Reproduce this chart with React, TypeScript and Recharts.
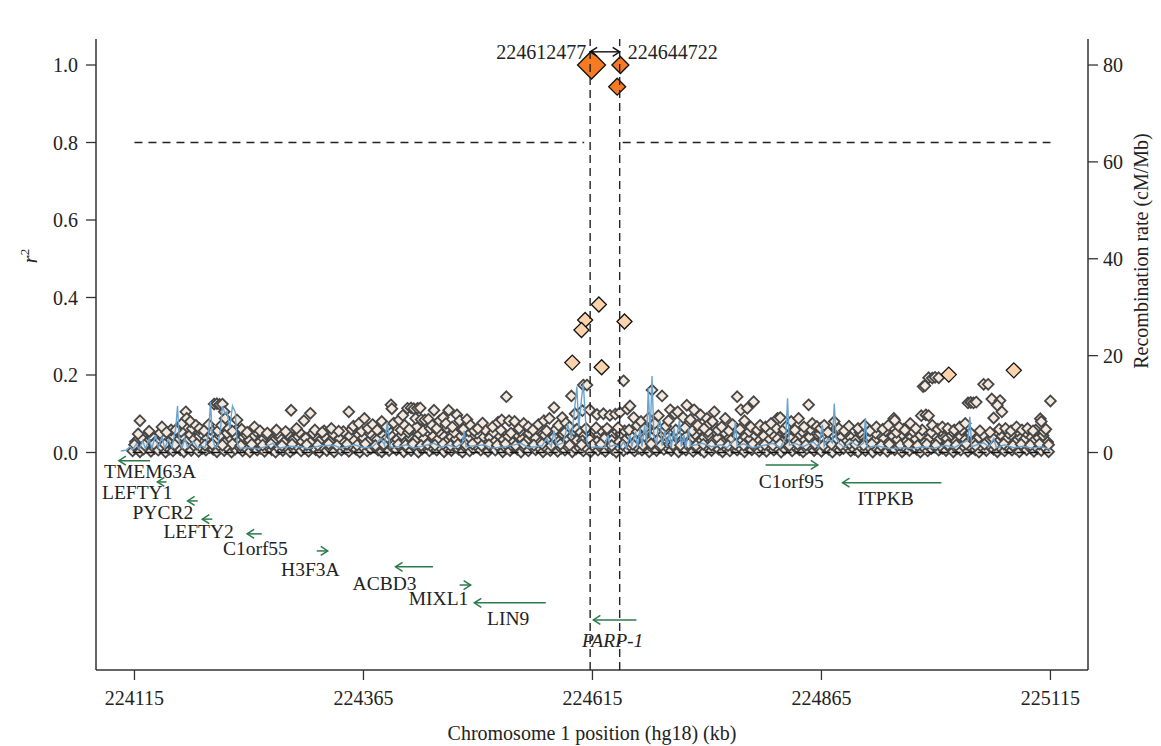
import React from "react";
import { ComposedChart, Scatter, Line, XAxis, YAxis, ReferenceLine } from "recharts";

const FONT = "'Liberation Serif', 'DejaVu Serif', serif";
const GENE_GREEN = "#2b7a4b";
const INK = "#222";

// axis ranges (kb, r^2, cM/Mb)
const X_DOMAIN: [number, number] = [224073, 225156];
const R2_DOMAIN: [number, number] = [-0.5613, 1.0671];
const RATE_DOMAIN: [number, number] = [-44.9, 85.37];

const xTicks = [224115, 224365, 224615, 224865, 225115];
const r2Ticks = [0, 0.2, 0.4, 0.6, 0.8, 1.0];
const rateTicks = [0, 20, 40, 60, 80];

// SNPs with r^2 < 0.2 (position kb, r^2)
const snps224100: [number, number][] = [
  [224113, 0.004], [224117, 0.012], [224121, 0.002], [224125, 0.009], [224129, 0.016], [224133, 0.003], [224137, 0.011], [224141, 0.006], [224145, 0.014], [224149, 0.001], [224153, 0.009], [224157, 0.004], [224161, 0.013], [224165, 0.007], [224169, 0.002], [224173, 0.012], [224177, 0.005], [224181, 0.015], [224185, 0.003], [224189, 0.01], [224193, 0.006], [224197, 0.013],
  [224116, 0.028], [224123, 0.036], [224128, 0.024], [224134, 0.041], [224139, 0.03], [224146, 0.038], [224152, 0.026], [224157, 0.044], [224163, 0.032], [224168, 0.04], [224172, 0.027], [224176, 0.046], [224180, 0.034], [224186, 0.042], [224190, 0.025], [224194, 0.037], [224199, 0.045],
  [224115, 0.02], [224119, 0.048], [224126, 0.019], [224131, 0.052], [224136, 0.022], [224143, 0.05], [224148, 0.021], [224155, 0.058], [224159, 0.02], [224166, 0.054], [224170, 0.018], [224178, 0.062], [224183, 0.022], [224188, 0.05], [224192, 0.019], [224198, 0.06],
  [224121, 0.082], [224131, 0.055], [224145, 0.066], [224150, 0.052], [224160, 0.058], [224167, 0.075], [224171, 0.105], [224172, 0.088], [224176, 0.08], [224182, 0.07], [224186, 0.062], [224191, 0.056], [224196, 0.072],
];
const snps224200: [number, number][] = [
  [224201, 0.008], [224205, 0.002], [224209, 0.014], [224213, 0.005], [224217, 0.011], [224221, 0.001], [224225, 0.009], [224229, 0.015], [224233, 0.004], [224237, 0.01], [224241, 0.002], [224245, 0.013], [224249, 0.006], [224253, 0.011], [224257, 0.003], [224261, 0.014], [224265, 0.007], [224269, 0.001], [224273, 0.01], [224277, 0.005], [224281, 0.013], [224285, 0.002], [224289, 0.009], [224293, 0.015], [224297, 0.004],
  [224203, 0.031], [224208, 0.043], [224214, 0.027], [224219, 0.038], [224224, 0.046], [224229, 0.029], [224234, 0.04], [224240, 0.033], [224246, 0.044], [224251, 0.025], [224256, 0.036], [224262, 0.042], [224267, 0.03], [224273, 0.039], [224278, 0.026], [224284, 0.045], [224289, 0.034], [224294, 0.041], [224298, 0.028],
  [224200, 0.021], [224206, 0.056], [224211, 0.019], [224216, 0.05], [224222, 0.022], [224227, 0.06], [224231, 0.018], [224236, 0.048], [224243, 0.021], [224248, 0.054], [224255, 0.019], [224259, 0.046], [224264, 0.022], [224271, 0.05], [224276, 0.018], [224282, 0.048], [224287, 0.021], [224295, 0.052],
  [224202, 0.125], [224205, 0.126], [224208, 0.124], [224211, 0.125], [224213, 0.105], [224214, 0.088], [224210, 0.07], [224218, 0.062], [224222, 0.055], [224227, 0.084], [224232, 0.06], [224238, 0.052], [224246, 0.066], [224252, 0.056], [224260, 0.05], [224270, 0.058], [224286, 0.109], [224280, 0.054], [224292, 0.062],
];
const snps224300: [number, number][] = [
  [224301, 0.011], [224305, 0.003], [224309, 0.014], [224313, 0.007], [224317, 0.001], [224321, 0.012], [224325, 0.005], [224329, 0.01], [224333, 0.002], [224337, 0.015], [224341, 0.006], [224345, 0.011], [224349, 0.003], [224353, 0.013], [224357, 0.008], [224361, 0.001], [224365, 0.012], [224369, 0.004], [224373, 0.01], [224377, 0.015], [224381, 0.006], [224385, 0.002], [224389, 0.011], [224393, 0.005], [224397, 0.013],
  [224302, 0.037], [224307, 0.026], [224312, 0.044], [224318, 0.032], [224323, 0.04], [224328, 0.028], [224334, 0.045], [224339, 0.035], [224344, 0.025], [224350, 0.042], [224355, 0.031], [224360, 0.046], [224365, 0.038], [224370, 0.027], [224375, 0.043], [224380, 0.033], [224385, 0.048], [224390, 0.036], [224395, 0.044], [224399, 0.029],
  [224303, 0.02], [224310, 0.05], [224315, 0.019], [224322, 0.056], [224327, 0.022], [224332, 0.048], [224336, 0.018], [224343, 0.054], [224347, 0.021], [224352, 0.06], [224358, 0.019], [224363, 0.055], [224367, 0.022], [224372, 0.05], [224378, 0.018], [224383, 0.062], [224387, 0.021], [224392, 0.058], [224398, 0.019],
  [224300, 0.082], [224307, 0.101], [224312, 0.058], [224320, 0.052], [224330, 0.062], [224338, 0.055], [224349, 0.105], [224354, 0.068], [224360, 0.075], [224366, 0.088], [224370, 0.062], [224375, 0.072], [224380, 0.058], [224385, 0.08], [224390, 0.066], [224395, 0.123], [224396, 0.113], [224398, 0.076],
];
const snps224400: [number, number][] = [
  [224401, 0.007], [224405, 0.014], [224409, 0.002], [224413, 0.01], [224417, 0.005], [224421, 0.013], [224425, 0.001], [224429, 0.009], [224433, 0.015], [224437, 0.004], [224441, 0.011], [224445, 0.006], [224449, 0.013], [224453, 0.002], [224457, 0.01], [224461, 0.005], [224465, 0.014], [224469, 0.008], [224473, 0.001], [224477, 0.012], [224481, 0.004], [224485, 0.01], [224489, 0.015], [224493, 0.006], [224497, 0.011],
  [224402, 0.034], [224407, 0.045], [224411, 0.027], [224416, 0.039], [224421, 0.031], [224426, 0.047], [224431, 0.036], [224436, 0.025], [224441, 0.042], [224446, 0.033], [224451, 0.046], [224456, 0.029], [224461, 0.04], [224466, 0.035], [224471, 0.044], [224476, 0.026], [224481, 0.038], [224486, 0.047], [224491, 0.032], [224496, 0.041],
  [224403, 0.021], [224406, 0.058], [224411, 0.019], [224414, 0.052], [224419, 0.022], [224423, 0.066], [224428, 0.018], [224430, 0.056], [224435, 0.021], [224438, 0.062], [224443, 0.019], [224447, 0.054], [224452, 0.022], [224456, 0.064], [224460, 0.018], [224464, 0.052], [224468, 0.021], [224472, 0.06], [224477, 0.019], [224480, 0.055], [224484, 0.022], [224489, 0.05], [224494, 0.018], [224498, 0.058],
  [224404, 0.084], [224408, 0.096], [224413, 0.114], [224417, 0.115], [224420, 0.113], [224424, 0.114], [224427, 0.115], [224410, 0.07], [224415, 0.06], [224422, 0.088], [224428, 0.085], [224432, 0.084], [224436, 0.086], [224440, 0.07], [224442, 0.109], [224445, 0.062], [224448, 0.082], [224452, 0.09], [224455, 0.075], [224458, 0.109], [224462, 0.066], [224467, 0.097], [224470, 0.082], [224474, 0.06], [224478, 0.085], [224482, 0.07], [224486, 0.056], [224490, 0.062], [224495, 0.076],
];
const snps224500: [number, number][] = [
  [224501, 0.003], [224505, 0.012], [224509, 0.006], [224513, 0.014], [224517, 0.002], [224521, 0.01], [224525, 0.005], [224529, 0.013], [224533, 0.008], [224537, 0.001], [224541, 0.011], [224545, 0.004], [224549, 0.015], [224553, 0.007], [224557, 0.012], [224561, 0.002], [224565, 0.01], [224569, 0.005], [224573, 0.014], [224577, 0.003], [224581, 0.011], [224585, 0.006], [224589, 0.013], [224593, 0.002], [224597, 0.009],
  [224503, 0.038], [224508, 0.027], [224513, 0.044], [224518, 0.033], [224523, 0.041], [224528, 0.025], [224533, 0.046], [224538, 0.035], [224543, 0.03], [224548, 0.043], [224553, 0.037], [224558, 0.026], [224563, 0.045], [224568, 0.034], [224573, 0.04], [224578, 0.028], [224583, 0.047], [224588, 0.036], [224593, 0.042], [224598, 0.031],
  [224502, 0.02], [224507, 0.052], [224511, 0.019], [224515, 0.058], [224520, 0.022], [224526, 0.05], [224531, 0.018], [224536, 0.055], [224540, 0.021], [224546, 0.05], [224551, 0.019], [224555, 0.062], [224560, 0.022], [224565, 0.056], [224570, 0.018], [224575, 0.06], [224580, 0.021], [224585, 0.052], [224590, 0.019], [224595, 0.056],
  [224506, 0.066], [224512, 0.078], [224516, 0.084], [224521, 0.144], [224524, 0.082], [224530, 0.08], [224535, 0.062], [224540, 0.075], [224545, 0.066], [224550, 0.058], [224556, 0.072], [224562, 0.082], [224568, 0.088], [224573, 0.116], [224578, 0.07], [224582, 0.09], [224586, 0.076], [224590, 0.066], [224592, 0.146], [224596, 0.1], [224598, 0.06],
];
const snps224600: [number, number][] = [
  [224601, 0.012], [224605, 0.004], [224609, 0.01], [224613, 0.002], [224617, 0.013], [224621, 0.006], [224625, 0.011], [224629, 0.003], [224633, 0.014], [224637, 0.008], [224641, 0.001], [224645, 0.012], [224649, 0.005], [224653, 0.01], [224657, 0.015], [224661, 0.004], [224665, 0.011], [224669, 0.006], [224673, 0.013], [224677, 0.002], [224681, 0.01], [224685, 0.005], [224689, 0.014], [224693, 0.008], [224697, 0.012],
  [224602, 0.052], [224606, 0.044], [224610, 0.055], [224614, 0.048], [224618, 0.056], [224622, 0.046], [224626, 0.053], [224630, 0.045], [224634, 0.055], [224638, 0.047], [224642, 0.054], [224646, 0.049], [224650, 0.056], [224604, 0.03], [224612, 0.034], [224620, 0.028], [224628, 0.036], [224636, 0.031], [224644, 0.027], [224652, 0.035], [224657, 0.042], [224662, 0.03], [224667, 0.046], [224672, 0.037], [224677, 0.028], [224682, 0.043], [224687, 0.034], [224692, 0.047], [224697, 0.039],
  [224603, 0.02], [224608, 0.062], [224615, 0.019], [224619, 0.064], [224624, 0.021], [224631, 0.062], [224636, 0.018], [224643, 0.064], [224648, 0.02], [224655, 0.058], [224659, 0.021], [224664, 0.054], [224670, 0.019], [224675, 0.06], [224679, 0.022], [224684, 0.055], [224690, 0.018], [224694, 0.058], [224699, 0.021],
  [224605, 0.174], [224609, 0.174], [224604, 0.108], [224612, 0.11], [224620, 0.098], [224627, 0.1], [224634, 0.096], [224640, 0.099], [224645, 0.103], [224649, 0.185], [224653, 0.112], [224656, 0.12], [224660, 0.09], [224664, 0.07], [224668, 0.08], [224672, 0.062], [224676, 0.088], [224680, 0.161], [224683, 0.075], [224687, 0.095], [224691, 0.146], [224695, 0.068], [224698, 0.082],
];
const snps224700: [number, number][] = [
  [224701, 0.005], [224705, 0.013], [224709, 0.002], [224713, 0.01], [224717, 0.006], [224721, 0.014], [224725, 0.003], [224729, 0.011], [224733, 0.007], [224737, 0.001], [224741, 0.012], [224745, 0.005], [224749, 0.015], [224753, 0.008], [224757, 0.002], [224761, 0.011], [224765, 0.004], [224769, 0.013], [224773, 0.006], [224777, 0.01], [224781, 0.002], [224785, 0.014], [224789, 0.007], [224793, 0.012], [224797, 0.003],
  [224702, 0.036], [224707, 0.045], [224712, 0.029], [224717, 0.041], [224722, 0.033], [224727, 0.047], [224732, 0.026], [224737, 0.039], [224742, 0.044], [224747, 0.031], [224752, 0.037], [224757, 0.025], [224762, 0.043], [224767, 0.034], [224772, 0.046], [224777, 0.028], [224782, 0.04], [224787, 0.035], [224792, 0.045], [224797, 0.03],
  [224703, 0.02], [224706, 0.058], [224711, 0.019], [224716, 0.064], [224720, 0.022], [224724, 0.056], [224728, 0.018], [224732, 0.06], [224736, 0.021], [224741, 0.054], [224745, 0.019], [224750, 0.062], [224755, 0.022], [224759, 0.052], [224763, 0.018], [224767, 0.058], [224771, 0.021], [224776, 0.06], [224780, 0.019], [224786, 0.054], [224790, 0.022], [224794, 0.058], [224799, 0.018],
  [224700, 0.11], [224705, 0.1], [224708, 0.105], [224714, 0.09], [224718, 0.122], [224722, 0.085], [224726, 0.11], [224730, 0.07], [224733, 0.097], [224737, 0.062], [224740, 0.088], [224743, 0.075], [224746, 0.08], [224748, 0.105], [224752, 0.058], [224756, 0.066], [224760, 0.088], [224764, 0.056], [224768, 0.072], [224773, 0.144], [224777, 0.11], [224781, 0.082], [224784, 0.114], [224788, 0.066], [224791, 0.131], [224795, 0.058], [224798, 0.07],
];
const snps224800: [number, number][] = [
  [224801, 0.01], [224805, 0.003], [224809, 0.013], [224813, 0.006], [224817, 0.011], [224821, 0.001], [224825, 0.009], [224829, 0.015], [224833, 0.004], [224837, 0.012], [224841, 0.007], [224845, 0.002], [224849, 0.01], [224853, 0.014], [224857, 0.005], [224861, 0.011], [224865, 0.003], [224869, 0.013], [224873, 0.008], [224877, 0.001], [224881, 0.012], [224885, 0.006], [224889, 0.01], [224893, 0.015], [224897, 0.004],
  [224802, 0.042], [224807, 0.03], [224812, 0.046], [224817, 0.035], [224822, 0.027], [224827, 0.043], [224832, 0.037], [224837, 0.029], [224842, 0.045], [224847, 0.032], [224852, 0.04], [224857, 0.026], [224862, 0.044], [224867, 0.036], [224872, 0.03], [224877, 0.047], [224882, 0.034], [224887, 0.041], [224892, 0.028], [224897, 0.038],
  [224803, 0.02], [224808, 0.056], [224812, 0.019], [224816, 0.062], [224820, 0.022], [224825, 0.052], [224830, 0.018], [224834, 0.058], [224839, 0.021], [224844, 0.054], [224848, 0.019], [224853, 0.06], [224858, 0.022], [224863, 0.05], [224867, 0.018], [224871, 0.056], [224876, 0.021], [224881, 0.062], [224886, 0.019], [224891, 0.052], [224896, 0.022],
  [224804, 0.066], [224810, 0.075], [224817, 0.088], [224820, 0.09], [224824, 0.06], [224828, 0.07], [224832, 0.08], [224836, 0.058], [224840, 0.088], [224846, 0.066], [224851, 0.123], [224855, 0.075], [224860, 0.067], [224864, 0.062], [224868, 0.07], [224872, 0.052], [224879, 0.08], [224884, 0.062], [224890, 0.056], [224895, 0.068],
];
const snps224900: [number, number][] = [
  [224901, 0.008], [224905, 0.002], [224909, 0.012], [224913, 0.005], [224917, 0.014], [224921, 0.001], [224925, 0.01], [224929, 0.006], [224933, 0.013], [224937, 0.003], [224941, 0.011], [224945, 0.007], [224949, 0.015], [224953, 0.002], [224957, 0.01], [224961, 0.005], [224965, 0.013], [224969, 0.008], [224973, 0.001], [224977, 0.012], [224981, 0.004], [224985, 0.01], [224989, 0.014], [224993, 0.006], [224997, 0.011],
  [224903, 0.033], [224908, 0.045], [224913, 0.027], [224918, 0.039], [224923, 0.031], [224928, 0.046], [224933, 0.036], [224938, 0.025], [224943, 0.042], [224948, 0.034], [224953, 0.047], [224958, 0.029], [224963, 0.04], [224968, 0.035], [224973, 0.044], [224978, 0.026], [224983, 0.038], [224988, 0.046], [224993, 0.032], [224998, 0.041],
  [224902, 0.021], [224907, 0.052], [224911, 0.019], [224916, 0.058], [224920, 0.022], [224924, 0.05], [224930, 0.018], [224935, 0.056], [224939, 0.021], [224947, 0.052], [224951, 0.019], [224955, 0.06], [224960, 0.022], [224965, 0.054], [224970, 0.018], [224975, 0.058], [224980, 0.021], [224985, 0.052], [224990, 0.019], [224995, 0.056],
  [224905, 0.062], [224912, 0.07], [224918, 0.056], [224925, 0.066], [224932, 0.06], [224938, 0.07], [224944, 0.088], [224945, 0.083], [224950, 0.066], [224956, 0.058], [224962, 0.075], [224968, 0.062], [224974, 0.095], [224976, 0.17], [224978, 0.172], [224979, 0.097], [224982, 0.095], [224982, 0.193], [224986, 0.192], [224989, 0.194], [224993, 0.193], [224986, 0.07], [224992, 0.06], [224997, 0.066],
];
const snps225000: [number, number][] = [
  [225001, 0.005], [225005, 0.013], [225009, 0.002], [225013, 0.01], [225017, 0.006], [225021, 0.014], [225025, 0.003], [225029, 0.011], [225033, 0.007], [225037, 0.001], [225041, 0.012], [225045, 0.005], [225049, 0.015], [225053, 0.008], [225057, 0.002], [225061, 0.011], [225065, 0.004], [225069, 0.013], [225073, 0.006], [225077, 0.01], [225081, 0.002], [225085, 0.014], [225089, 0.007], [225093, 0.012], [225097, 0.003], [225101, 0.01], [225105, 0.005], [225109, 0.013], [225113, 0.002],
  [225002, 0.036], [225007, 0.045], [225012, 0.029], [225017, 0.041], [225022, 0.033], [225027, 0.047], [225032, 0.026], [225037, 0.039], [225042, 0.044], [225047, 0.031], [225052, 0.037], [225057, 0.025], [225062, 0.043], [225067, 0.034], [225072, 0.046], [225077, 0.028], [225082, 0.04], [225087, 0.035], [225092, 0.045], [225097, 0.03], [225102, 0.038], [225107, 0.044], [225112, 0.027],
  [225003, 0.02], [225008, 0.054], [225012, 0.019], [225018, 0.058], [225023, 0.022], [225028, 0.05], [225033, 0.018], [225038, 0.056], [225043, 0.021], [225049, 0.052], [225054, 0.019], [225059, 0.06], [225064, 0.022], [225069, 0.05], [225074, 0.018], [225079, 0.056], [225083, 0.021], [225088, 0.052], [225093, 0.019], [225099, 0.058], [225103, 0.022], [225108, 0.054], [225113, 0.02],
  [225003, 0.062], [225010, 0.058], [225016, 0.066], [225022, 0.075], [225025, 0.128], [225028, 0.129], [225031, 0.128], [225034, 0.13], [225042, 0.176], [225047, 0.176], [225051, 0.138], [225060, 0.134], [225057, 0.122], [225062, 0.105], [225053, 0.089], [225066, 0.062], [225072, 0.056], [225078, 0.066], [225084, 0.058], [225090, 0.062], [225096, 0.056], [225104, 0.087], [225105, 0.08], [225110, 0.06], [225115, 0.133],
];

// SNPs with 0.2 <= r^2 < 0.5
const midSnps: [number, number][] = [
  [224622, 0.382], [224607, 0.342], [224603, 0.316], [224650, 0.338], [224593, 0.232], [224625, 0.22], [225004, 0.201], [225075, 0.212],
];
// rs8679 and its proxies
const leadSnp: [number, number][] = [[224614, 1.0]];
const proxySnps: [number, number][] = [[224645.5, 1.0], [224642, 0.944]];

// recombination rate (kb, cM/Mb)
const recombRate: [number, number][] = [
  [224100, 0.3], [224106, 0.5], [224110, 1.2], [224113, 0.6], [224117, 1.8], [224120, 0.7], [224124, 2.4], [224127, 0.8], [224131, 2.8], [224134, 0.9], [224138, 3.6], [224141, 1.0], [224145, 3.2], [224148, 0.9], [224152, 2.6], [224156, 1.1], [224160, 5.0], [224162, 9.6], [224164, 2.0], [224167, 1.0], [224170, 3.0], [224173, 1.1], [224176, 1.8], [224180, 2.2], [224184, 0.9], [224188, 1.4], [224192, 1.0], [224196, 4.0], [224198, 10.4], [224200, 3.0], [224203, 1.0], [224206, 1.6], [224209, 5.0], [224211, 9.6], [224214, 8.0], [224216, 8.4], [224219, 5.0], [224222, 9.6], [224225, 8.4], [224227, 2.0], [224230, 0.9],
  [224240, 1.0], [224250, 0.8], [224258, 1.2], [224266, 1.9], [224272, 0.9], [224285, 1.3], [224296, 1.2], [224305, 0.8], [224318, 1.4], [224333, 1.5], [224340, 0.9], [224355, 1.6], [224365, 1.0], [224375, 1.2], [224384, 2.9], [224388, 1.5], [224391, 6.3], [224394, 1.2], [224398, 1.0], [224412, 1.6], [224420, 0.9], [224442, 1.9], [224450, 1.0], [224457, 1.6], [224465, 1.0], [224473, 2.0], [224475, 4.5], [224477, 1.2], [224497, 1.6], [224505, 0.9], [224520, 1.2], [224537, 1.9], [224545, 1.0], [224560, 1.4], [224565, 2.9], [224570, 1.2], [224573, 4.5], [224576, 1.5], [224583, 2.0], [224588, 5.7], [224592, 3.0], [224596, 10.0], [224598, 13.6], [224600, 5.0], [224603, 11.0], [224605, 14.3], [224607, 8.0], [224609, 2.0], [224612, 1.0],
  [224620, 1.2], [224628, 1.0], [224632, 3.6], [224634, 1.2], [224640, 1.6], [224645, 1.0], [224649, 2.2], [224652, 0.9], [224656, 3.6], [224658, 1.2], [224662, 4.3], [224664, 1.0], [224667, 5.0], [224669, 1.2], [224672, 5.6], [224674, 2.0], [224676, 13.3], [224678, 3.0], [224680, 15.8], [224682, 3.6], [224685, 1.5], [224687, 6.0], [224689, 6.3], [224691, 1.4], [224694, 4.5], [224696, 1.2], [224699, 4.3], [224701, 1.0], [224704, 5.0], [224706, 1.8], [224710, 6.7], [224712, 1.2], [224715, 3.6], [224717, 1.0], [224720, 5.0], [224722, 1.4], [224728, 1.6], [224735, 1.9], [224745, 1.2], [224755, 1.6], [224762, 1.0], [224769, 2.5], [224771, 6.3], [224773, 1.3], [224780, 1.8], [224790, 1.0], [224800, 1.4], [224812, 1.9], [224820, 1.0], [224826, 3.0], [224828, 11.2], [224830, 1.5], [224836, 1.9], [224845, 1.2], [224856, 2.2], [224862, 1.0], [224866, 5.7], [224868, 1.3], [224872, 2.9], [224877, 2.0], [224879, 10.1], [224881, 3.0], [224885, 1.8], [224890, 1.0], [224898, 2.3], [224905, 1.2], [224911, 2.0], [224913, 7.1], [224915, 1.0],
  [224925, 1.4], [224940, 0.8], [224955, 1.0], [224965, 0.8], [224975, 1.2], [224988, 0.9], [225000, 1.5], [225010, 1.0], [225018, 1.9], [225025, 2.5], [225027, 7.4], [225029, 1.2], [225035, 1.6], [225042, 2.0], [225048, 1.2], [225053, 2.9], [225056, 1.0], [225065, 1.6], [225075, 1.0], [225085, 1.3], [225095, 0.9], [225105, 1.2], [225115, 0.6],
];

// genes (kb), strand, track row (in r^2 units) and label anchor
const geneNames = ["TMEM63A", "LEFTY1", "PYCR2", "LEFTY2", "C1orf55", "H3F3A", "ACBD3", "MIXL1", "LIN9", "PARP-1", "C1orf95", "ITPKB"];
const geneStart = [224098, 224140, 224173, 224189, 224238, 224314, 224400, 224470, 224486, 224616, 224804, 224888];
const geneEnd = [224132, 224150, 224184, 224200, 224254, 224326, 224441, 224482, 224564, 224663, 224861, 224996];
const geneStrand = [-1, -1, -1, -1, -1, 1, -1, 1, -1, -1, 1, -1];
const geneRow = [-0.021, -0.076, -0.125, -0.172, -0.21, -0.254, -0.295, -0.342, -0.388, -0.432, -0.032, -0.078];
const geneLabelPos = [224132, 224118, 224146, 224185, 224247, 224307, 224388, 224447, 224523, 224637, 224832, 224935];
const geneLabelRow = [-0.048, -0.103, -0.153, -0.203, -0.246, -0.301, -0.337, -0.376, -0.427, -0.484, -0.074, -0.117];

// region bounds around rs8679
const regionStart = 224612.477;
const regionEnd = 224644.722;
const threshold = 0.8;

const toPoints = (rows: [number, number][]) => rows.map(([pos, r2]) => ({ pos, r2 }));

const lowData = toPoints([
  ...snps224100, ...snps224200, ...snps224300, ...snps224400, ...snps224500,
  ...snps224600, ...snps224700, ...snps224800, ...snps224900, ...snps225000,
]);
const midData = toPoints(midSnps);
const leadData = toPoints(leadSnp);
const proxyData = toPoints(proxySnps);
const rateData = recombRate.map(([pos, rate]) => ({ pos, rate }));
const labelData = geneNames.map((name, i) => ({ pos: geneLabelPos[i], r2: geneLabelRow[i], name }));

const diamond = (r: number, fill: string, stroke: string, sw: number) => (p: any) => {
  const { cx, cy } = p;
  if (cx == null || cy == null) return <g />;
  return (
    <path
      d={`M${cx},${cy - r}L${cx + r},${cy}L${cx},${cy + r}L${cx - r},${cy}Z`}
      fill={fill}
      stroke={stroke}
      strokeWidth={sw}
    />
  );
};

const geneArrow = (strand: number) => (p: any) => {
  const { x1, x2, y1 } = p;
  const left = Math.min(x1, x2);
  const right = Math.max(x1, x2);
  const tip = strand < 0 ? left : right;
  const back = strand < 0 ? tip + 7 : tip - 7;
  return (
    <g stroke={GENE_GREEN} strokeWidth={1.5} fill="none">
      <line x1={left} y1={y1} x2={right} y2={y1} />
      <polyline points={`${back},${y1 - 4.5} ${tip},${y1} ${back},${y1 + 4.5}`} />
    </g>
  );
};

const regionArrow = (p: any) => {
  const { x1, x2, y1 } = p;
  return (
    <g>
      <g stroke="#111" strokeWidth={1.4} fill="none">
        <line x1={x1} y1={y1} x2={x2} y2={y1} />
        <polyline points={`${x1 + 7},${y1 - 4.5} ${x1},${y1} ${x1 + 7},${y1 + 4.5}`} />
        <polyline points={`${x2 - 7},${y1 - 4.5} ${x2},${y1} ${x2 - 7},${y1 + 4.5}`} />
      </g>
      <text x={x1 - 4} y={y1} dy="0.35em" textAnchor="end" fontFamily={FONT} fontSize={20} fill={INK}>
        224612477
      </text>
      <text x={x2 + 8} y={y1} dy="0.35em" textAnchor="start" fontFamily={FONT} fontSize={20} fill={INK}>
        224644722
      </text>
    </g>
  );
};

const geneLabel = (p: any) => {
  const { cx, cy, payload } = p;
  return (
    <text
      x={cx}
      y={cy}
      dy="0.35em"
      textAnchor="middle"
      fontFamily={FONT}
      fontSize={19.5}
      fontStyle={payload.name === "PARP-1" ? "italic" : "normal"}
      fill={INK}
    >
      {payload.name}
    </text>
  );
};

const tickStyle = { fontFamily: FONT, fontSize: 20, fill: INK };

export default function App() {
  return (
    <div style={{ position: "absolute", left: 0, top: 0, width: 1161, height: 746, background: "#fff" }}>
      <ComposedChart width={1161} height={746} margin={{ top: 39, right: 0, bottom: 0, left: 0 }}>
        <XAxis
          dataKey="pos"
          type="number"
          domain={X_DOMAIN}
          allowDataOverflow
          ticks={xTicks}
          tickSize={10}
          tickMargin={11}
          tick={tickStyle}
          tickLine={{ stroke: "#333", strokeWidth: 1.3 }}
          axisLine={{ stroke: "#333", strokeWidth: 1.5 }}
          height={76}
          label={{
            content: (lp: any) => {
              const vb = lp.viewBox;
              return (
                <text x={vb.x + vb.width / 2} y={vb.y + 63} dy="0.35em" textAnchor="middle" fontFamily={FONT} fontSize={20} fill={INK}>
                  Chromosome 1 position (hg18) (kb)
                </text>
              );
            },
          }}
        />
        <XAxis
          xAxisId="top"
          orientation="top"
          type="number"
          domain={X_DOMAIN}
          allowDataOverflow
          tick={false}
          tickLine={false}
          height={0}
          axisLine={{ stroke: "#333", strokeWidth: 1.5 }}
          label={{
            content: (lp: any) => {
              const vb = lp.viewBox;
              return (
                <text x={vb.x + vb.width / 2} y={vb.y - 22} dy="0.35em" textAnchor="middle" fontFamily={FONT} fontSize={20} fill={INK}>
                  rs8679 (CEU)
                </text>
              );
            },
          }}
        />
        <YAxis
          yAxisId="left"
          type="number"
          domain={R2_DOMAIN}
          allowDataOverflow
          ticks={r2Ticks}
          tickFormatter={(v: number) => v.toFixed(1)}
          tickSize={10}
          tickMargin={8}
          tick={tickStyle}
          tickLine={{ stroke: "#333", strokeWidth: 1.3 }}
          axisLine={{ stroke: "#333", strokeWidth: 1.5 }}
          width={96}
          label={{
            content: (lp: any) => {
              const vb = lp.viewBox;
              const x = vb.x + 37;
              const y = vb.y + 217;
              return (
                <text x={x} y={y} transform={`rotate(-90, ${x}, ${y})`} textAnchor="middle" fontFamily={FONT} fontSize={20} fill={INK}>
                  <tspan fontStyle="italic">r</tspan>
                  <tspan fontSize={13} dy={-8}>2</tspan>
                </text>
              );
            },
          }}
        />
        <YAxis
          yAxisId="right"
          orientation="right"
          type="number"
          domain={RATE_DOMAIN}
          allowDataOverflow
          ticks={rateTicks}
          tickSize={10}
          tickMargin={5}
          tick={tickStyle}
          tickLine={{ stroke: "#333", strokeWidth: 1.3 }}
          axisLine={{ stroke: "#333", strokeWidth: 1.5 }}
          width={73}
          label={{
            content: (lp: any) => {
              const vb = lp.viewBox;
              const x = vb.x + 60;
              const y = vb.y + 212;
              return (
                <text x={x} y={y} transform={`rotate(-90, ${x}, ${y})`} textAnchor="middle" fontFamily={FONT} fontSize={20} fill={INK}>
                  Recombination rate (cM/Mb)
                </text>
              );
            },
          }}
        />

        {geneNames.map((name, i) => (
          <ReferenceLine
            key={name}
            yAxisId="left"
            segment={[
              { x: geneStart[i], y: geneRow[i] },
              { x: geneEnd[i], y: geneRow[i] },
            ]}
            stroke={GENE_GREEN}
            shape={geneArrow(geneStrand[i])}
          />
        ))}
        <Scatter yAxisId="left" data={labelData} dataKey="r2" shape={geneLabel} isAnimationActive={false} />

        <Scatter
          yAxisId="left"
          data={lowData}
          dataKey="r2"
          shape={diamond(5.4, "#f5e9de", "#464646", 1.8)}
          isAnimationActive={false}
          zIndex={600}
        />
        <Line
          yAxisId="right"
          data={rateData}
          dataKey="rate"
          type="linear"
          stroke="#6ba3cf"
          strokeWidth={1.4}
          dot={false}
          activeDot={false}
          isAnimationActive={false}
          zIndex={650}
        />
        <ReferenceLine
          yAxisId="left"
          segment={[
            { x: 224113, y: 0 },
            { x: 225115, y: 0 },
          ]}
          stroke="#111"
          strokeWidth={1.4}
          strokeDasharray="9 4"
          zIndex={660}
        />
        <Scatter yAxisId="left" data={midData} dataKey="r2" shape={diamond(7.5, "#fdd3ad", "#111", 1.3)} isAnimationActive={false} zIndex={700} />
        <Scatter yAxisId="left" data={proxyData} dataKey="r2" shape={diamond(8.5, "#f47b22", "#111", 1.3)} isAnimationActive={false} zIndex={710} />
        <Scatter yAxisId="left" data={leadData} dataKey="r2" shape={diamond(14, "#f47b22", "#111", 1.3)} isAnimationActive={false} zIndex={710} />

        <ReferenceLine
          yAxisId="left"
          segment={[
            { x: 224115, y: threshold },
            { x: 224606, y: threshold },
          ]}
          stroke={INK}
          strokeWidth={1.4}
          strokeDasharray="8 6"
          zIndex={720}
        />
        <ReferenceLine
          yAxisId="left"
          segment={[
            { x: 224648, y: threshold },
            { x: 225115, y: threshold },
          ]}
          stroke={INK}
          strokeWidth={1.4}
          strokeDasharray="8 6"
          zIndex={720}
        />
        <ReferenceLine yAxisId="left" x={regionStart} stroke={INK} strokeWidth={1.4} strokeDasharray="8 5" zIndex={720} />
        <ReferenceLine yAxisId="left" x={regionEnd} stroke={INK} strokeWidth={1.4} strokeDasharray="8 5" zIndex={720} />
        <ReferenceLine
          yAxisId="left"
          segment={[
            { x: regionStart, y: 1.034 },
            { x: regionEnd, y: 1.034 },
          ]}
          shape={regionArrow}
          zIndex={720}
        />
      </ComposedChart>
    </div>
  );
}
